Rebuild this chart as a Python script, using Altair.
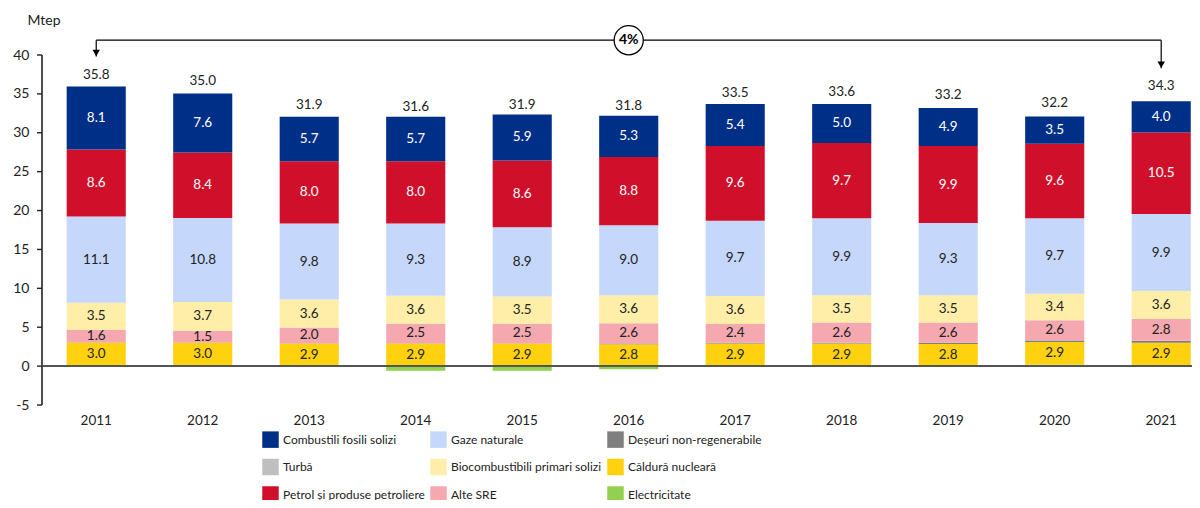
import altair as alt
import pandas as pd

years = [str(y) for y in range(2011, 2022)]
totals = [35.8, 35.0, 31.9, 31.6, 31.9, 31.8, 33.5, 33.6, 33.2, 32.2, 34.3]

solid = [8.1, 7.6, 5.7, 5.7, 5.9, 5.3, 5.4, 5.0, 4.9, 3.5, 4.0]
petrol = [8.6, 8.4, 8.0, 8.0, 8.6, 8.8, 9.6, 9.7, 9.9, 9.6, 10.5]
gaze = [11.1, 10.8, 9.8, 9.3, 8.9, 9.0, 9.7, 9.9, 9.3, 9.7, 9.9]
bio = [3.5, 3.7, 3.6, 3.6, 3.5, 3.6, 3.6, 3.5, 3.5, 3.4, 3.6]
alte = [1.6, 1.5, 2.0, 2.5, 2.5, 2.6, 2.4, 2.6, 2.6, 2.6, 2.8]
nuclear = [3.0, 3.0, 2.9, 2.9, 2.9, 2.8, 2.9, 2.9, 2.8, 2.9, 2.9]
deseuri = [0.05, 0.05, 0.05, 0.05, 0.05, 0.1, 0.1, 0.1, 0.15, 0.2, 0.25]
turba = [0.0] * 11
electricitate = [-0.1, 0.0, -0.1, -0.6, -0.6, -0.4, -0.1, -0.05, 0.05, 0.2, 0.1]
y_ticks = [-5, 0, 5, 10, 15, 20, 25, 30, 35, 40]

# legend order (column-major, 3 columns x 3 rows)
legend_cats = [
    "Combustili fosili solizi", "Turbă", "Petrol și produse petroliere",
    "Gaze naturale", "Biocombustibili primari solizi", "Alte SRE",
    "Deșeuri non-regenerabile", "Căldură nucleară", "Electricitate",
]
legend_colors = [
    "#002F87", "#BFBFBF", "#D0102B",
    "#C5D7FA", "#FFEEA8", "#F5A8B0",
    "#7F7F7F", "#FFD10F", "#92D050",
]
series = {
    "Electricitate": electricitate,
    "Căldură nucleară": nuclear,
    "Deșeuri non-regenerabile": deseuri,
    "Turbă": turba,
    "Alte SRE": alte,
    "Biocombustibili primari solizi": bio,
    "Gaze naturale": gaze,
    "Petrol și produse petroliere": petrol,
    "Combustili fosili solizi": solid,
}
labelled = ["Căldură nucleară", "Alte SRE", "Biocombustibili primari solizi",
            "Gaze naturale", "Petrol și produse petroliere", "Combustili fosili solizi"]
white_text = ["Petrol și produse petroliere", "Combustili fosili solizi"]

rows = []
for i, (cat, vals) in enumerate(series.items()):
    for yr, v in zip(years, vals):
        rows.append({"year": yr, "cat": cat, "value": v, "ord": i})
df = pd.DataFrame(rows)

tot_df = pd.DataFrame({"year": years, "total": totals})
tick_df = pd.DataFrame({"t": y_ticks})
LINE_Y = 41.9
ann = pd.DataFrame({
    "year": [years[0], years[-1]],
    "top": [LINE_Y, LINE_Y],
    "tip": [totals[0] + 4.0, totals[-1] + 4.0],
})
circ = pd.DataFrame({"year": ["2016"], "y": [LINE_Y], "t": ["4%"]})

FONT = "Lato"
AX = "#222222"

xscale = alt.Scale(domain=years, paddingInner=0.445, paddingOuter=0.117, align=0.95)
yscale = alt.Scale(domain=[-5, 40], nice=False, zero=False)
xaxis = alt.Axis(title=None, labelAngle=0)
yaxis = alt.Axis(values=y_ticks, title="Mtep")


def X():
    return alt.X("year:O", scale=xscale, axis=xaxis)


def Y():
    return alt.Y("yv:Q", scale=yscale, axis=yaxis)


stacked = alt.Chart(df).transform_stack(
    stack="value", groupby=["year"], as_=["s0", "s1"],
    sort=[alt.SortField("ord", order="ascending")],
)

bars = stacked.transform_calculate(yv="datum.s0", yv2="datum.s1").mark_bar().encode(
    x=X(),
    y=Y(),
    y2="yv2:Q",
    color=alt.Color("cat:N", scale=alt.Scale(domain=legend_cats, range=legend_colors),
                    legend=alt.Legend(orient="none", legendX=219, legendY=376, columns=3,
                                      title=None, symbolType="square", symbolSize=272,
                                      symbolStrokeWidth=0, labelFontSize=12,
                                      labelOffset=4, rowPadding=10.5, columnPadding=5,
                                      padding=0, labelColor="#222", labelLimit=300,
                                      symbolOpacity=1)),
)

seg_text = stacked.transform_filter(
    alt.FieldOneOfPredicate(field="cat", oneOf=labelled)
).transform_calculate(yv="(datum.s0 + datum.s1) / 2").mark_text(
    fontSize=13.5, baseline="middle").encode(
    x=X(),
    y=Y(),
    text=alt.Text("value:Q", format=".1f"),
    color=alt.condition(alt.FieldOneOfPredicate(field="cat", oneOf=white_text),
                        alt.value("white"), alt.value("#222")),
)

tot_text = alt.Chart(tot_df).transform_calculate(yv="datum.total").mark_text(
    fontSize=13.5, baseline="middle", dy=-13, color="#222").encode(
    x=X(), y=Y(), text=alt.Text("total:Q", format=".1f"))

zero = alt.Chart(tot_df).transform_calculate(yv="0").mark_rule(
    color="#555", strokeWidth=1.3).encode(y=Y())

# y-axis line and tick marks
ydomain = alt.Chart(tick_df).transform_aggregate(lo="min(t)", hi="max(t)").transform_calculate(
    yv="datum.lo", yv2="datum.hi").mark_rule(color=AX, strokeWidth=1.6).encode(
    x=alt.value(-1), y=Y(), y2="yv2:Q")
yticks = alt.Chart(tick_df).transform_calculate(yv="datum.t").mark_rule(
    color=AX, strokeWidth=1.4).encode(x=alt.value(-6), x2=alt.value(-1), y=Y())

hline = alt.Chart(ann).transform_calculate(yv="datum.top").mark_line(
    color="black", strokeWidth=1.2).encode(x=X(), y=Y())
vlines = alt.Chart(ann).transform_calculate(yv="datum.top", yv2="datum.tip").mark_rule(
    color="black", strokeWidth=1.2).encode(x=X(), y=Y(), y2="yv2:Q")
tris = alt.Chart(ann).transform_calculate(yv="datum.tip + 0.45").mark_point(
    shape="triangle-down", filled=True, color="black", size=55, opacity=1).encode(
    x=X(), y=Y())
circle = alt.Chart(circ).transform_calculate(yv="datum.y").mark_point(
    shape="circle", filled=True, color="white", stroke="black", strokeWidth=1.3,
    size=850, opacity=1).encode(x=X(), y=Y())
ctext = alt.Chart(circ).transform_calculate(yv="datum.y").mark_text(
    fontSize=14, fontWeight="bold", color="black", baseline="middle").encode(
    x=X(), y=Y(), text="t:N")

chart = alt.layer(bars, seg_text, tot_text, zero, ydomain, yticks, hline, vlines, tris,
                  circle, ctext).properties(
    width=1149, height=350,
    autosize=alt.AutoSizeParams(type="none"),
    padding={"left": 35, "top": 47, "right": 0, "bottom": 95},
).configure(font=FONT).configure_view(stroke=None).configure_axisX(
    domain=False, ticks=False, grid=False, labelPadding=8, labelFontSize=13.5,
    labelColor="#222", labelAngle=0,
).configure_axisY(
    titleAngle=0, titleX=-16, titleY=-35, titleAlign="left", titleBaseline="middle",
    titleFontWeight="normal", titleFontSize=14, titleColor="#222",
    grid=False, domain=False, ticks=False, tickSize=5,
    labelPadding=14, labelFontSize=14, labelOverlap=False,
    labelExpr="replace(datum.label, '\u2212', '-')",
    labelColor="#222",
)

chart.save("out.html", embed_options={"renderer": "svg", "actions": False})
